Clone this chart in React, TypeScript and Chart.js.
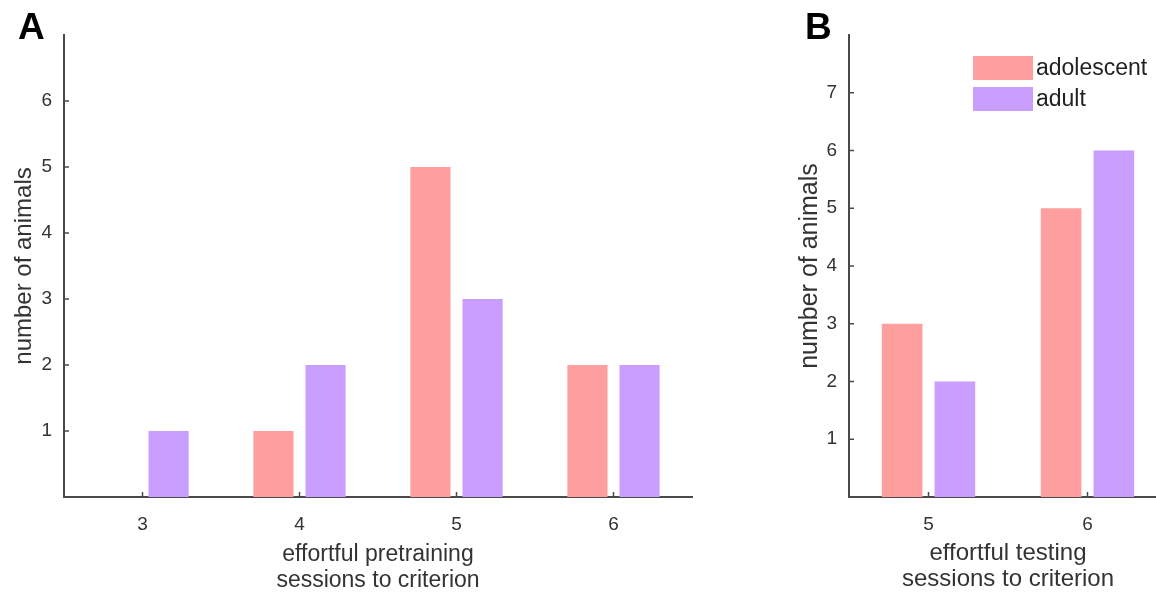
import React, { useEffect, useRef } from 'react';
import { Chart, registerables } from 'chart.js';

Chart.register(...registerables);

// ---------- data ----------
const seriesNames = ['adolescent', 'adult'];
const seriesColors = ['#FF9E9E', '#C99EFF'];

const categoriesA = ['3', '4', '5', '6'];
const adolescentA = [0, 1, 5, 2];
const adultA = [1, 2, 3, 2];
const yTicksA = [1, 2, 3, 4, 5, 6];
const yMaxA = 7;
const xTitleA = ['effortful pretraining', 'sessions to criterion'];

const categoriesB = ['5', '6'];
const adolescentB = [3, 5];
const adultB = [2, 6];
const yTicksB = [1, 2, 3, 4, 5, 6, 7];
const yMaxB = 8;
const xTitleB = ['effortful testing', 'sessions to criterion'];

const yTitle = 'number of animals';

// ---------- style ----------
const FONT = '"Liberation Sans", Arial, Helvetica, sans-serif';
const AXIS_COLOR = '#4a4a4a';
const TEXT_COLOR = '#333333';

const inwardTicks = {
  id: 'inwardTicks',
  afterDatasetsDraw(chart: any) {
    const { ctx, chartArea, scales } = chart;
    const xs = scales.x;
    const ys = scales.y;
    ctx.save();
    ctx.strokeStyle = AXIS_COLOR;
    ctx.lineWidth = 1.5;
    xs.ticks.forEach((_t: any, i: number) => {
      const px = xs.getPixelForTick(i);
      ctx.beginPath();
      ctx.moveTo(px, chartArea.bottom);
      ctx.lineTo(px, chartArea.bottom - 5);
      ctx.stroke();
    });
    ys.ticks.forEach((_t: any, i: number) => {
      const py = ys.getPixelForTick(i);
      ctx.beginPath();
      ctx.moveTo(chartArea.left, py);
      ctx.lineTo(chartArea.left + 5, py);
      ctx.stroke();
    });
    ctx.restore();
  },
};

const boxLegend = {
  id: 'boxLegend',
  afterDraw(chart: any) {
    const { ctx, chartArea } = chart;
    const x0 = chartArea.left + 124;
    const y0 = chartArea.top + 21;
    const w = 60;
    const h = 24;
    const gap = 7;
    ctx.save();
    chart.data.datasets.forEach((ds: any, i: number) => {
      const y = y0 + i * (h + gap);
      ctx.fillStyle = ds.backgroundColor;
      ctx.fillRect(x0, y, w, h);
      ctx.fillStyle = '#222222';
      ctx.font = `23px ${FONT}`;
      ctx.textBaseline = 'middle';
      ctx.textAlign = 'left';
      ctx.fillText(ds.label, x0 + w + 3, y + h / 2 + 1);
    });
    ctx.restore();
  },
};

function buildConfig(
  categories: string[],
  adolescent: number[],
  adult: number[],
  yTicks: number[],
  yMax: number,
  xTitle: string[],
  padRight: number,
  withLegend: boolean,
  tickSize: number,
  xTitleSize: number,
  yTitleSize: number
): any {
  return {
    type: 'bar',
    data: {
      labels: categories,
      datasets: [
        { label: seriesNames[0], data: adolescent, backgroundColor: seriesColors[0], borderWidth: 0 },
        { label: seriesNames[1], data: adult, backgroundColor: seriesColors[1], borderWidth: 0 },
      ],
    },
    options: {
      responsive: false,
      animation: false,
      devicePixelRatio: 1,
      categoryPercentage: 0.664,
      barPercentage: 0.77,
      layout: { padding: { left: 0, top: 35, right: padRight, bottom: 0 } },
      plugins: {
        legend: { display: false },
        tooltip: { enabled: false },
      },
      scales: {
        x: {
          type: 'category',
          offset: true,
          z: 1,
          grid: { display: false, drawTicks: false },
          border: { display: true, color: AXIS_COLOR, width: 2 },
          ticks: {
            color: TEXT_COLOR,
            font: { size: tickSize, family: FONT },
            padding: 18 - (tickSize - 16) * 0.5,
            maxRotation: 0,
          },
          title: {
            display: true,
            text: xTitle,
            color: TEXT_COLOR,
            font: { size: xTitleSize, family: FONT, lineHeight: 1.1 },
            padding: { top: 0, bottom: 2 },
          },
          afterFit: (scale: any) => {
            scale.height = 98;
          },
        },
        y: {
          type: 'linear',
          min: 0,
          max: yMax,
          z: 1,
          grid: { display: false, drawTicks: false },
          border: { display: true, color: AXIS_COLOR, width: 2 },
          ticks: { color: TEXT_COLOR, font: { size: tickSize, family: FONT }, padding: 12 },
          afterBuildTicks: (scale: any) => {
            scale.ticks = yTicks.map((v) => ({ value: v }));
          },
          title: {
            display: true,
            text: yTitle,
            color: TEXT_COLOR,
            font: { size: yTitleSize, family: FONT, lineHeight: 1.2 },
            padding: { top: 10, bottom: 0 },
          },
          afterFit: (scale: any) => {
            scale.width = 64;
          },
        },
      },
    },
    plugins: withLegend ? [inwardTicks, boxLegend] : [inwardTicks],
  };
}

function ChartCanvas({ config, left, width }: { config: () => any; left: number; width: number }) {
  const ref = useRef<HTMLCanvasElement | null>(null);
  useEffect(() => {
    if (!ref.current) return;
    const chart = new Chart(ref.current, config());
    return () => chart.destroy();
  }, []);
  return (
    <canvas
      ref={ref}
      width={width}
      height={595}
      style={{ position: 'absolute', left, top: 0, width, height: 595 }}
    />
  );
}

const letterStyle: React.CSSProperties = {
  position: 'absolute',
  top: 8,
  fontFamily: FONT,
  fontWeight: 'bold',
  fontSize: 37,
  lineHeight: 1,
  color: '#000',
};

export default function App() {
  return (
    <div
      style={{
        position: 'fixed',
        left: 0,
        top: 0,
        width: 1156,
        height: 595,
        overflow: 'hidden',
        background: '#ffffff',
      }}
    >
      <ChartCanvas
        left={0}
        width={720}
        config={() =>
          buildConfig(categoriesA, adolescentA, adultA, yTicksA, yMaxA, xTitleA, 28, false, 19, 23, 24)
        }
      />
      <ChartCanvas
        left={785}
        width={400}
        config={() =>
          buildConfig(categoriesB, adolescentB, adultB, yTicksB, yMaxB, xTitleB, 18, true, 19, 24, 25)
        }
      />
      <div style={{ ...letterStyle, left: 18 }}>A</div>
      <div style={{ ...letterStyle, left: 805 }}>B</div>
    </div>
  );
}
